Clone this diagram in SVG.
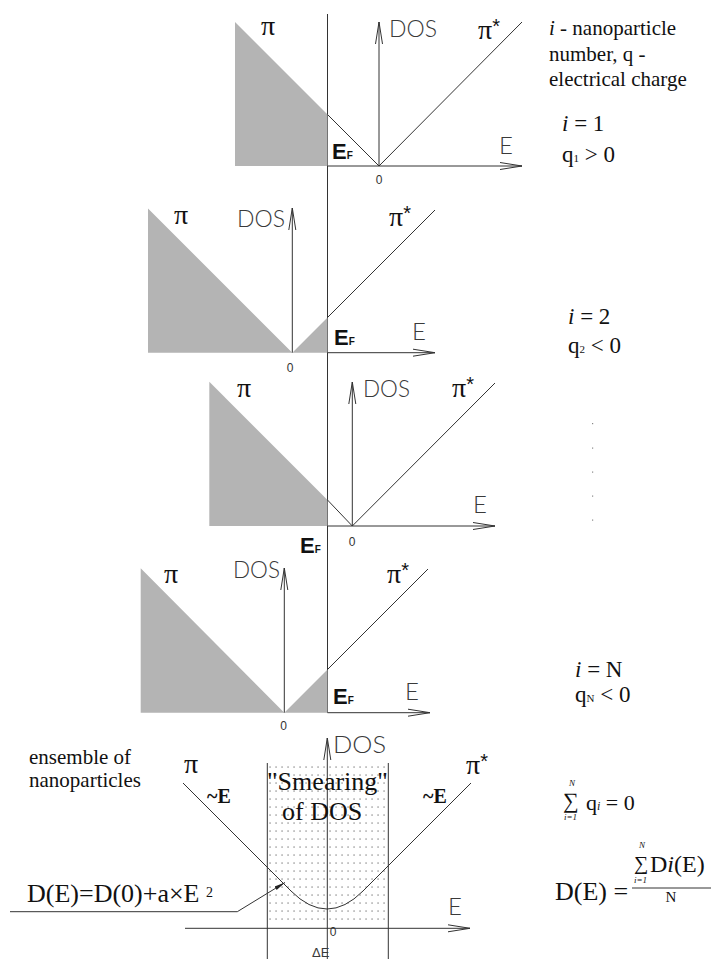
<svg xmlns="http://www.w3.org/2000/svg" width="712" height="959" viewBox="0 0 712 959">
<style>
.ax{stroke:#333;stroke-width:1;fill:none}
.sh{fill:#b4b4b4}
.cad{font-family:Lato,"Liberation Sans",sans-serif;font-weight:300;font-size:24px;fill:#3a3a3a}
.zero{font-family:"Liberation Sans",Arial,sans-serif;font-size:12px;fill:#333;text-anchor:middle}
.pi{font-family:"Liberation Serif",serif;font-size:28px;fill:#111}
.st{font-family:"Liberation Sans",sans-serif;font-size:20px}
.ef{font-family:"Liberation Sans",Arial,sans-serif;font-weight:bold;font-size:22px;fill:#111}
.rt{font-family:"Liberation Serif","Times New Roman",serif;fill:#111}
</style>
<defs>
<marker id="arr" markerUnits="userSpaceOnUse" markerWidth="24" markerHeight="9" viewBox="0 0 24 9" refX="22" refY="4.5" orient="auto">
<path d="M0,1 L22,4.5 L0,8" fill="none" stroke="#333" stroke-width="1"/>
</marker>
<marker id="arrf" markerUnits="userSpaceOnUse" markerWidth="12" markerHeight="6" viewBox="0 0 12 6" refX="11" refY="3" orient="auto">
<path d="M0,1 L11,3 L0,5 Z" fill="#222"/>
</marker>
<pattern id="dots" patternUnits="userSpaceOnUse" x="267" y="763" width="6" height="8">
<rect x="2.5" y="3.5" width="1.1" height="1.1" fill="#555"/>
</pattern>
</defs>

<g id="connectors">
<path class="ax" d="M327.5,14 L327.5,712.7"/>
</g>

<g id="panel1">
<path class="sh" d="M235,22 L327.5,114.5 L327.5,166 L235,166 Z"/>
<path class="ax" d="M327.5,114.5 L379,166"/>
<path class="ax" d="M379,166 L522,22"/>
<path class="ax" d="M379,166 L379,22" marker-end="url(#arr)"/>
<path class="ax" d="M327.5,166 L522,166" marker-end="url(#arr)"/>
<text class="pi" x="261" y="35">π</text>
<text class="cad" x="389" y="37" textLength="48" lengthAdjust="spacingAndGlyphs">DOS</text>
<text class="pi" x="478" y="39">π<tspan class="st" dy="-6">*</tspan></text>
<text class="cad" x="499" y="154">E</text>
<text class="ef" x="332" y="159">E<tspan font-size="10">F</tspan></text>
<text class="zero" x="379" y="184">0</text>
</g>

<g id="panel2">
<path class="sh" d="M148,208.5 L292.3,352.7 L327.5,317.5 L327.5,352.7 L148,352.7 Z"/>
<path class="ax" d="M327.5,317.5 L435,210"/>
<path class="ax" d="M292.3,352.7 L292.3,208" marker-end="url(#arr)"/>
<path class="ax" d="M327.5,352.7 L435,352.7" marker-end="url(#arr)"/>
<text class="pi" x="174" y="224">π</text>
<text class="cad" x="237" y="227" textLength="48" lengthAdjust="spacingAndGlyphs">DOS</text>
<text class="pi" x="389" y="226">π<tspan class="st" dy="-6">*</tspan></text>
<text class="cad" x="412" y="340">E</text>
<text class="ef" x="334" y="345">E<tspan font-size="10">F</tspan></text>
<text class="zero" x="290" y="372">0</text>
</g>

<g id="panel3">
<path class="sh" d="M209.3,381.7 L327.5,500 L327.5,526 L209.3,526 Z"/>
<path class="ax" d="M327.5,500 L352.3,526"/>
<path class="ax" d="M352.3,526 L495,383"/>
<path class="ax" d="M352.3,526 L352.3,382" marker-end="url(#arr)"/>
<path class="ax" d="M327.5,526 L495,526" marker-end="url(#arr)"/>
<text class="pi" x="237" y="397">π</text>
<text class="cad" x="363" y="397" textLength="47" lengthAdjust="spacingAndGlyphs">DOS</text>
<text class="pi" x="452" y="397">π<tspan class="st" dy="-6">*</tspan></text>
<text class="cad" x="473" y="513">E</text>
<text class="ef" x="300" y="553">E<tspan font-size="10">F</tspan></text>
<text class="zero" x="352" y="546">0</text>
</g>

<g id="panel4">
<path class="sh" d="M140.7,568.3 L284.3,712.7 L327.5,669.5 L327.5,712.7 L140.7,712.7 Z"/>
<path class="ax" d="M327.5,669.5 L428,569"/>
<path class="ax" d="M284.3,712.7 L284.3,568" marker-end="url(#arr)"/>
<path class="ax" d="M327.5,712.7 L430,712.7" marker-end="url(#arr)"/>
<text class="pi" x="164" y="583">π</text>
<text class="cad" x="233" y="578" textLength="47" lengthAdjust="spacingAndGlyphs">DOS</text>
<text class="pi" x="387" y="583">π<tspan class="st" dy="-6">*</tspan></text>
<text class="cad" x="405" y="700">E</text>
<text class="ef" x="333" y="704">E<tspan font-size="10">F</tspan></text>
<text class="zero" x="283.5" y="730">0</text>
</g>

<g id="ensemble">
<rect x="267.3" y="763" width="121" height="162" fill="url(#dots)"/>
<path class="ax" d="M267.3,763 L267.3,959 M388.3,763 L388.3,959"/>
<path class="ax" d="M327.3,959 L327.3,738" marker-end="url(#arr)"/>
<path class="ax" d="M185,928.3 L470,928.3" marker-end="url(#arr)"/>
<path class="ax" d="M183,783 L291,891 Q327,927 363,891 L471,783"/>
<path class="ax" d="M10,911.7 L237.3,911.7 L285,882.5" marker-end="url(#arrf)"/>
<text class="pi" x="184" y="773">π</text>
<text class="pi" x="466" y="774">π<tspan class="st" dy="-6">*</tspan></text>
<text class="cad" x="333" y="753" textLength="53" lengthAdjust="spacingAndGlyphs">DOS</text>
<text class="cad" x="448" y="915">E</text>
<text class="zero" x="333" y="936">0</text>
<text x="312" y="957" font-family="Liberation Sans,Arial,sans-serif" font-size="13" fill="#3a3a3a">ΔE</text>
<text class="rt" x="207" y="803" font-size="20" font-weight="bold">~E</text>
<text class="rt" x="423" y="803" font-size="20" font-weight="bold">~E</text>
<text class="rt" x="267" y="790" font-size="26" textLength="121" lengthAdjust="spacingAndGlyphs">"Smearing"</text>
<text class="rt" x="282" y="820" font-size="26">of DOS</text>
<text class="rt" x="27" y="901.7" font-size="26">D(E)=D(0)+a×E <tspan font-size="14" dy="-5">2</tspan></text>
<text class="rt" x="29" y="764" font-size="21">ensemble of</text>
<text class="rt" x="29" y="787" font-size="21">nanoparticles</text>
</g>

<g id="labels">
<text class="rt" x="549" y="35" font-size="21"><tspan font-style="italic">i</tspan> - nanoparticle</text>
<text class="rt" x="549" y="61" font-size="21">number, q -</text>
<text class="rt" x="549" y="86" font-size="21">electrical charge</text>
<text class="rt" x="562" y="131" font-size="23"><tspan font-style="italic">i</tspan> = 1</text>
<text class="rt" x="562" y="162" font-size="23">q<tspan font-size="11">1</tspan> &gt; 0</text>
<text class="rt" x="568" y="324" font-size="23"><tspan font-style="italic">i</tspan> = 2</text>
<text class="rt" x="568" y="353" font-size="23">q<tspan font-size="11">2</tspan> &lt; 0</text>
<g fill="#888">
<rect x="592" y="423" width="1.2" height="1.2"/>
<rect x="592" y="447.5" width="1.2" height="1.2"/>
<rect x="592" y="471.5" width="1.2" height="1.2"/>
<rect x="592" y="495.5" width="1.2" height="1.2"/>
<rect x="592" y="519.5" width="1.2" height="1.2"/>
</g>
<text class="rt" x="575" y="677" font-size="23"><tspan font-style="italic">i</tspan> = N</text>
<text class="rt" x="575" y="702" font-size="23">q<tspan font-size="11">N</tspan> &lt; 0</text>
<text class="rt" x="563" y="808" font-size="22">∑</text>
<text class="rt" x="569" y="786" font-size="9" font-style="italic">N</text>
<text class="rt" x="564" y="820" font-size="9" font-style="italic">i=1</text>
<text class="rt" x="586" y="810" font-size="22">q<tspan font-size="12" font-style="italic">i</tspan> = 0</text>
<text class="rt" x="555" y="900" font-size="26">D(E) =</text>
<text class="rt" x="634" y="870" font-size="20">∑</text>
<text class="rt" x="639" y="848" font-size="9" font-style="italic">N</text>
<text class="rt" x="634" y="883" font-size="9" font-style="italic">i=1</text>
<text class="rt" x="650" y="872" font-size="24">D<tspan font-style="italic">i</tspan>(E)</text>
<path d="M632,888 L711,888" stroke="#333" stroke-width="1"/>
<text class="rt" x="671" y="902" font-size="15" text-anchor="middle">N</text>
</g>
</svg>
